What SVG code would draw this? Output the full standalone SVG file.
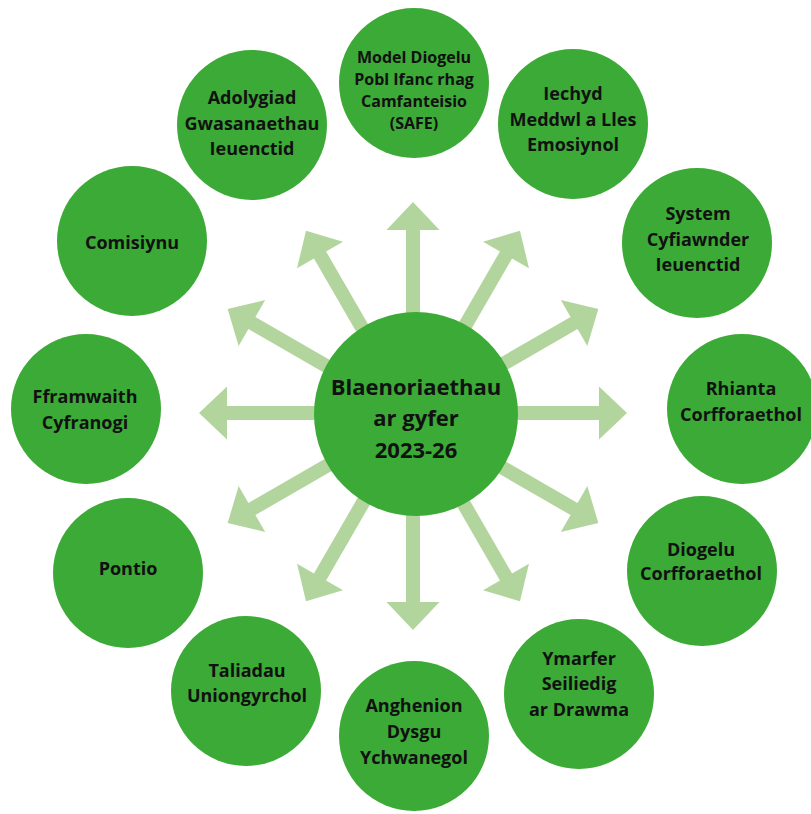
<svg xmlns="http://www.w3.org/2000/svg" width="811" height="814" viewBox="0 0 811 814">
<style>
.n{fill:#3caa36}
.t{font-family:"Open Sans","Liberation Sans",sans-serif;font-weight:700;font-size:18px;fill:#111;text-anchor:middle}
.s{font-size:16px}
.c{font-size:22px}
.a{fill:#b2d59e}
</style>
<defs>
<path id="arr" d="M-7,0 L-7,-186 L-26.5,-186 L0,-214 L26.5,-186 L7,-186 L7,0 Z"/>
</defs>
<rect width="811" height="814" fill="#fff"/>
<g id="connectors" class="a">
<use href="#arr" transform="translate(413,416) rotate(0)"/>
<use href="#arr" transform="translate(413,416) rotate(30)"/>
<use href="#arr" transform="translate(413,416) rotate(60)"/>
<use href="#arr" transform="translate(413,413) rotate(90)"/>
<use href="#arr" transform="translate(413,416) rotate(120)"/>
<use href="#arr" transform="translate(413,416) rotate(150)"/>
<use href="#arr" transform="translate(413,416) rotate(180)"/>
<use href="#arr" transform="translate(413,416) rotate(210)"/>
<use href="#arr" transform="translate(413,416) rotate(240)"/>
<use href="#arr" transform="translate(413,413) rotate(270)"/>
<use href="#arr" transform="translate(413,416) rotate(300)"/>
<use href="#arr" transform="translate(413,416) rotate(330)"/>
</g>
<g id="center">
<circle class="n" cx="416" cy="414" r="102"/>
<text class="t c" x="416" y="395">Blaenoriaethau</text>
<text class="t c" x="416" y="426">ar gyfer</text>
<text class="t c" x="416" y="458">2023-26</text>
</g>
<g id="n-model">
<circle class="n" cx="414" cy="83" r="75"/>
<text class="t s" x="414" y="63">Model Diogelu</text>
<text class="t s" x="414" y="85">Pobl Ifanc rhag</text>
<text class="t s" x="414" y="107">Camfanteisio</text>
<text class="t s" x="414" y="129">(SAFE)</text>
</g>
<g id="n-iechyd">
<circle class="n" cx="573" cy="124" r="75"/>
<text class="t" x="573" y="100">Iechyd</text>
<text class="t" x="573" y="126">Meddwl a Lles</text>
<text class="t" x="573" y="151">Emosiynol</text>
</g>
<g id="n-system">
<circle class="n" cx="697" cy="243" r="75"/>
<text class="t" x="698" y="220">System</text>
<text class="t" x="698" y="246">Cyfiawnder</text>
<text class="t" x="698" y="271">Ieuenctid</text>
</g>
<g id="n-rhianta">
<circle class="n" cx="742" cy="409" r="75"/>
<text class="t" x="741" y="395">Rhianta</text>
<text class="t" x="741" y="421">Corfforaethol</text>
</g>
<g id="n-diogelu">
<circle class="n" cx="702" cy="571" r="75"/>
<text class="t" x="701" y="556">Diogelu</text>
<text class="t" x="701" y="580">Corfforaethol</text>
</g>
<g id="n-ymarfer">
<circle class="n" cx="579" cy="694" r="75"/>
<text class="t" x="579" y="665">Ymarfer</text>
<text class="t" x="579" y="690">Seiliedig</text>
<text class="t" x="579" y="716">ar Drawma</text>
</g>
<g id="n-anghenion">
<circle class="n" cx="414" cy="736" r="75"/>
<text class="t" x="414" y="712">Anghenion</text>
<text class="t" x="414" y="738">Dysgu</text>
<text class="t" x="414" y="764">Ychwanegol</text>
</g>
<g id="n-taliadau">
<circle class="n" cx="246" cy="691" r="75"/>
<text class="t" x="247" y="677">Taliadau</text>
<text class="t" x="247" y="702">Uniongyrchol</text>
</g>
<g id="n-pontio">
<circle class="n" cx="128" cy="573" r="75"/>
<text class="t" x="128" y="575">Pontio</text>
</g>
<g id="n-fframwaith">
<circle class="n" cx="86" cy="409" r="75"/>
<text class="t" x="85" y="403">Fframwaith</text>
<text class="t" x="85" y="429">Cyfranogi</text>
</g>
<g id="n-comisiynu">
<circle class="n" cx="132" cy="241" r="75"/>
<text class="t" x="132" y="249">Comisiynu</text>
</g>
<g id="n-adolygiad">
<circle class="n" cx="252" cy="125" r="75"/>
<text class="t" x="252" y="104">Adolygiad</text>
<text class="t" x="252" y="130">Gwasanaethau</text>
<text class="t" x="252" y="155">Ieuenctid</text>
</g>
</svg>
